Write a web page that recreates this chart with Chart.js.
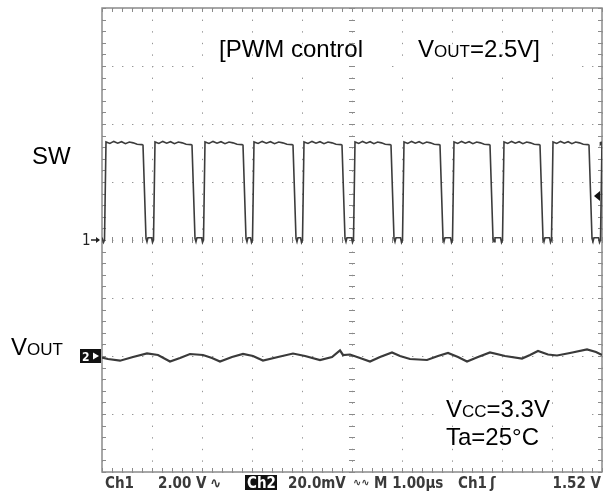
<!DOCTYPE html>
<html><head><meta charset="utf-8">
<script src="https://cdn.jsdelivr.net/npm/chart.js@4.4.0/dist/chart.umd.min.js"></script>
<style>html,body{margin:0;padding:0;background:#fff;}canvas{display:block;}</style>
</head><body>
<canvas id="c" width="605" height="498"></canvas>
<script>
// ---- scales (oscilloscope divisions) ----
const timeTicks = [0,1,2,3,4,5,6,7,8,9,10];        // µs, 1.00 µs/div
const ch1Ticks  = [-8,-6,-4,-2,0,2,4,6,8];          // V, 2.00 V/div
const ch2Range  = [-40, 120];                       // mV, 20.0 mV/div (ground 2 div below centre)
const trigLevel = 1.52;                             // V

// ---- SW (Ch1) trace, edges (µs) ----
const swRise = [0.04, 1.02, 2.02, 3.00, 4.00, 5.02, 6.00, 7.00, 8.00, 8.98, 9.96];
const swFall = [0.82, 1.80, 2.82, 3.82, 4.80, 5.78, 6.76, 7.76, 8.76, 9.74];
const swHigh = 3.34;   // V
const swLow  = 0.08;   // V
const swTopRipple = [0.05, -0.01, 0.06, 0.0, 0.05, -0.02, 0.04, 0.01, -0.04];

// ---- VOUT (Ch2) ripple (µs, mV) ----
const voutTime = [0,0.12,0.36,0.62,0.90,1.12,1.36,1.56,1.76,2.02,2.20,2.36,2.60,2.82,3.02,3.22,3.52,3.82,4.06,4.36,4.60,4.76,4.82,4.96,5.16,5.36,5.56,5.80,5.96,6.16,6.50,6.72,6.92,7.12,7.30,7.52,7.76,8.06,8.40,8.56,8.72,8.92,9.10,9.36,9.70,9.88,10.0];
const voutMv   = [-0.52,-1.03,-1.62,-0.35,0.92,0.35,-1.90,-0.69,0.69,0.35,-0.69,-1.90,-0.35,0.69,0,-1.55,-0.35,0.86,0,-1.38,-0.35,1.90,0.35,0.52,-0.69,-1.90,-0.35,1.21,0,-1.03,-1.38,0,1.04,-0.35,-1.90,-0.35,1.21,0,-0.86,0.35,1.73,0.52,0.17,1.04,2.24,1.38,0.35];

// ---- build point tables from the read values ----
const swPts = [{x:0, y:swLow}];
swRise.forEach((r, i) => {
  swPts.push({x:r-0.03, y:swLow}, {x:r-0.01, y:-0.08}, {x:r+0.01, y:0}, {x:r+0.04, y:swHigh+0.04});
  const f = swFall[i];
  const end = (f !== undefined) ? f : 10;
  const n = swTopRipple.length;
  for (let k = 1; k < n; k++) {
    const t = r + 0.04 + (end - r - 0.08) * k / n;
    if (t < end) swPts.push({x:t, y:swHigh + swTopRipple[k]});
  }
  if (f !== undefined) {
    swPts.push({x:f-0.02, y:swHigh-0.05}, {x:f, y:swHigh-0.07},
               {x:f+0.06, y:0.06}, {x:f+0.08, y:-0.06}, {x:f+0.10, y:swLow});
  } else {
    swPts.push({x:10, y:swHigh});
  }
});
const voutPts = voutTime.map((t, i) => ({x:t, y:voutMv[i]}));

// ---- decorations (scope graticule details, markers, texts) ----
const scope = {
  id: 'scope',
  beforeDatasetsDraw(chart) {
    const {ctx, chartArea:a, scales:{x, y}} = chart;
    ctx.save();
    // white label patches over the graticule
    ctx.fillStyle = '#fff';
    ctx.fillRect(196, 60, 188, 10);
    ctx.fillRect(398, 60, 183, 10);
    ctx.fillRect(434, 409, 158, 12);
    // border
    ctx.strokeStyle = '#8a8a8a';
    ctx.lineWidth = 1.5;
    ctx.strokeRect(a.left, a.top, a.right - a.left, a.bottom - a.top);
    // minor ticks on border and centre lines
    ctx.lineWidth = 1;
    ctx.beginPath();
    const xc = x.getPixelForValue(5), yc = y.getPixelForValue(0);
    for (let v = 0; v <= 10.001; v += 0.2) {
      const px = Math.round(x.getPixelForValue(v)) + 0.5;
      ctx.moveTo(px, a.top); ctx.lineTo(px, a.top + 4);
      ctx.moveTo(px, a.bottom); ctx.lineTo(px, a.bottom - 4);
      ctx.moveTo(px, yc - 3); ctx.lineTo(px, yc + 3);
    }
    for (let v = -8; v <= 8.001; v += 0.4) {
      const py = Math.round(y.getPixelForValue(v)) + 0.5;
      ctx.moveTo(a.left, py); ctx.lineTo(a.left + 4, py);
      ctx.moveTo(a.right, py); ctx.lineTo(a.right - 4, py);
      ctx.moveTo(xc - 3, py); ctx.lineTo(xc + 3, py);
    }
    ctx.stroke();
    ctx.restore();
  },
  afterDraw(chart) {
    const {ctx, scales:{y, y2}} = chart;
    ctx.save();
    ctx.fillStyle = '#000';
    ctx.textBaseline = 'alphabetic';
    const big = '24px "Liberation Sans", Arial, sans-serif';
    const small = '17px "Liberation Sans", Arial, sans-serif';
    function seq(parts, x0, yb) {
      let xx = x0;
      parts.forEach(([t, f]) => { ctx.font = f; ctx.fillText(t, xx, yb); xx += ctx.measureText(t).width; });
    }
    seq([['[PWM control', big]], 219, 57);
    seq([['V', big], ['OUT', small], ['=2.5V]', big]], 418, 57);
    seq([['SW', big]], 32, 164);
    seq([['V', big], ['OUT', small]], 11, 355);
    seq([['V', big], ['CC', small], ['=3.3V', big]], 446, 417);
    seq([['Ta=25°C', big]], 446, 445);

    // channel ground markers
    const y1g = y.getPixelForValue(0);
    ctx.font = '15px "DejaVu Sans Condensed", sans-serif';
    ctx.fillStyle = '#222';
    ctx.fillText('1', 82, y1g + 5);
    ctx.beginPath(); ctx.moveTo(91, y1g); ctx.lineTo(99, y1g); ctx.strokeStyle = '#222'; ctx.lineWidth = 1.5; ctx.stroke();
    ctx.beginPath(); ctx.moveTo(100, y1g); ctx.lineTo(96, y1g - 3); ctx.lineTo(96, y1g + 3); ctx.closePath(); ctx.fill();
    const y2g = y2.getPixelForValue(0);
    ctx.fillStyle = '#111';
    ctx.fillRect(80, y2g - 7, 21, 14);
    ctx.fillStyle = '#fff';
    ctx.font = 'bold 12px "DejaVu Sans Condensed", sans-serif';
    ctx.fillText('2', 82, y2g + 5);
    ctx.beginPath(); ctx.moveTo(99, y2g); ctx.lineTo(93, y2g - 3.5); ctx.lineTo(93, y2g + 3.5); ctx.closePath(); ctx.fill();

    // trigger level marker
    const yt = y.getPixelForValue(trigLevel);
    ctx.fillStyle = '#111';
    ctx.beginPath(); ctx.moveTo(594, yt); ctx.lineTo(600, yt - 5); ctx.lineTo(600, yt + 5); ctx.closePath(); ctx.fill();

    // status line
    const st = 'bold 15px "DejaVu Sans Condensed", sans-serif';
    ctx.font = st;
    ctx.fillStyle = '#3a3a3a';
    const by = 488;
    ctx.fillText('Ch1', 105, by);
    ctx.fillText('2.00 V', 158, by);
    ctx.fillText('∿', 210, by);
    ctx.fillStyle = '#111';
    ctx.fillRect(245, 475, 32, 15);
    ctx.fillStyle = '#fff';
    ctx.fillText('Ch2', 247, by);
    ctx.fillStyle = '#3a3a3a';
    ctx.fillText('20.0mV', 288, by);
    ctx.font = 'bold 11px "DejaVu Sans Condensed", sans-serif';
    ctx.fillText('∿∿', 353, by - 2);
    ctx.font = st;
    ctx.fillText('M 1.00µs', 374, by);
    ctx.fillText('Ch1', 458, by);
    ctx.fillText('ʃ', 490, by);
    ctx.textAlign = 'right';
    ctx.fillText('1.52 V', 601, by);
    ctx.restore();
  }
};

const gridColor = '#969696';
new Chart(document.getElementById('c'), {
  type: 'line',
  data: {
    datasets: [
      {label:'SW', data: swPts, yAxisID:'y', borderColor:'#3c3c3c', borderWidth:1.6, pointRadius:0, tension:0, fill:false},
      {label:'VOUT', data: voutPts, yAxisID:'y2', borderColor:'#3a3a3a', borderWidth:2.2, pointRadius:0, tension:0, fill:false}
    ]
  },
  options: {
    responsive:false, animation:false,
    layout:{padding:{left:102, right:3, top:8, bottom:26}},
    plugins:{legend:{display:false}, tooltip:{enabled:false}},
    scales:{
      x:{type:'linear', min:0, max:10,
         afterBuildTicks:(s)=>{ s.ticks = timeTicks.map(v=>({value:v})); },
         ticks:{display:false}, grid:{color:gridColor, lineWidth:1, drawTicks:false},
         border:{display:false, dash:[1.4, 10.2]}},
      y:{type:'linear', min:-8, max:8,
         afterBuildTicks:(s)=>{ s.ticks = ch1Ticks.map(v=>({value:v})); },
         ticks:{display:false}, grid:{color:gridColor, lineWidth:1, drawTicks:false},
         border:{display:false, dash:[1.4, 8.6]}},
      y2:{type:'linear', min:ch2Range[0], max:ch2Range[1], display:false}
    }
  },
  plugins:[scope]
});
</script>
</body></html>
